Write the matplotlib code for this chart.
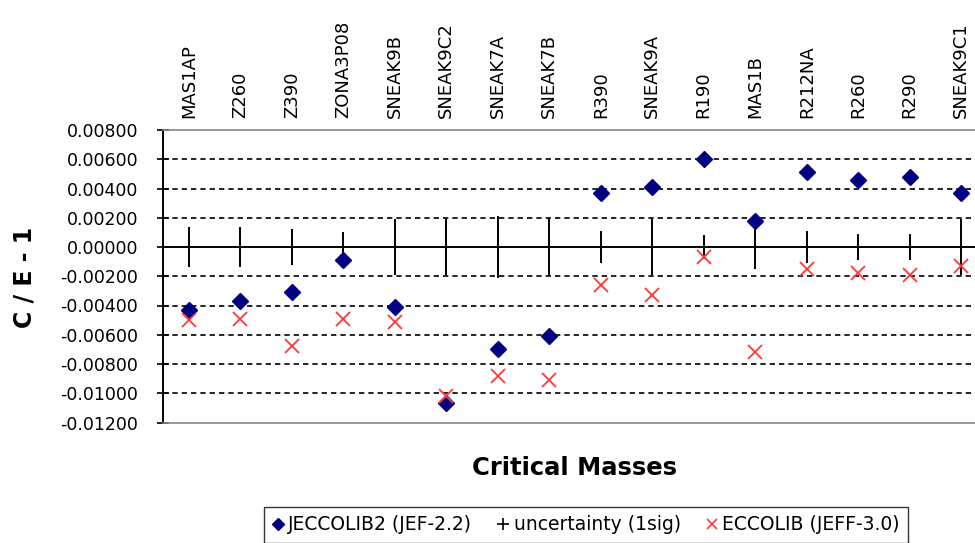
import matplotlib
matplotlib.use("Agg")
from matplotlib import pyplot as plt
from matplotlib.lines import Line2D
import numpy as np

plt.rcParams["font.family"] = ["DejaVu Sans"]

cases = [
    "MAS1AP", "Z260", "Z390", "ZONA3P08", "SNEAK9B", "SNEAK9C2", "SNEAK7A", "SNEAK7B",
    "R390", "SNEAK9A", "R190", "MAS1B", "R212NA", "R260", "R290", "SNEAK9C1",
]
jeccolib2 = [
    -0.0043, -0.0037, -0.0031, -0.0009, -0.0041, -0.0107, -0.0070, -0.0061,
    0.0037, 0.0041, 0.0060, 0.0018, 0.0051, 0.0046, 0.0048, 0.0037,
]
eccolib = [
    -0.0050, -0.0049, -0.0068, -0.0049, -0.0051, -0.0102, -0.0088, -0.0091,
    -0.0026, -0.0033, -0.0007, -0.0072, -0.0015, -0.0018, -0.0019, -0.0013,
]
uncertainty = [
    0.0014, 0.0014, 0.0012, 0.0010, 0.0019, 0.0019, 0.0021, 0.0020,
    0.0011, 0.0019, 0.0008, 0.0015, 0.0011, 0.0009, 0.0009, 0.0019,
]
yticks = [0.008, 0.006, 0.004, 0.002, 0.0, -0.002, -0.004, -0.006, -0.008, -0.010, -0.012]

x = np.arange(len(cases))

fig = plt.figure(figsize=(9.75, 5.43), dpi=100)
# plot area runs a bit past the right edge, as in the original
ax = fig.add_axes([163 / 975, 1 - 422.5 / 543, 824 / 975, 292.5 / 543])

# dashed grid, solid zero line
for y in yticks[1:-1]:
    if y == 0:
        ax.axhline(0, color="black", lw=1.4, zorder=1)
    else:
        ax.axhline(y, color="black", lw=1.2, ls=(0, (3.2, 2.4)), zorder=1)

ax.errorbar(x, np.zeros(len(x)), yerr=uncertainty, fmt="none", ecolor="black",
            elinewidth=1.4, capsize=0, zorder=2)
ax.plot(x, jeccolib2, ls="none", marker="D", ms=8, color="#000080",
        mec="#000080", zorder=3)
ax.plot(x, eccolib, ls="none", marker="x", ms=9.5, mew=1.3, color="#FF3838",
        zorder=4)

ax.set_xlim(-0.5, len(cases) - 0.5)
ax.set_ylim(-0.012, 0.008)
ax.set_yticks(yticks)
ax.set_yticklabels(["%.5f" % v for v in yticks], fontsize=12.5)
ax.tick_params(axis="y", direction="inout", length=8, width=1.2, pad=14)

ax.xaxis.tick_top()
ax.set_xticks(x)
ax.set_xticklabels(cases, rotation=90, fontsize=13)
ax.tick_params(axis="x", length=0, pad=9)

ax.spines["left"].set_color("black")
ax.spines["left"].set_linewidth(1.4)
for s in ["top", "bottom", "right"]:
    ax.spines[s].set_color("#888888")
    ax.spines[s].set_linewidth(1.2)

fig.text(24 / 975, 1 - 277 / 543, "C / E - 1", rotation=90, fontsize=17,
         fontweight="bold", ha="center", va="center")
fig.text(575 / 975, 1 - 468 / 543, "Critical Masses", fontsize=17.5,
         fontweight="bold", ha="center", va="center")

handles = [
    Line2D([], [], ls="none", marker="D", ms=6.5, color="#000080"),
    Line2D([], [], ls="none", marker="+", ms=8, mew=1.2, color="black"),
    Line2D([], [], ls="none", marker="x", ms=6.5, mew=1.2, color="#FF3838"),
]
labels = ["JECCOLIB2 (JEF-2.2)", "uncertainty (1sig)", "ECCOLIB (JEFF-3.0)"]
leg = fig.legend(handles, labels, loc="upper left",
                 bbox_to_anchor=(264 / 975, 1 - 507 / 543), ncol=3, fontsize=13.5,
                 frameon=True, fancybox=False, borderaxespad=0, handlelength=0.6,
                 handletextpad=0.25, columnspacing=1.35, borderpad=0.45)
leg.get_frame().set_edgecolor("black")
leg.get_frame().set_linewidth(1.0)

fig.savefig("out.png", dpi=100)
